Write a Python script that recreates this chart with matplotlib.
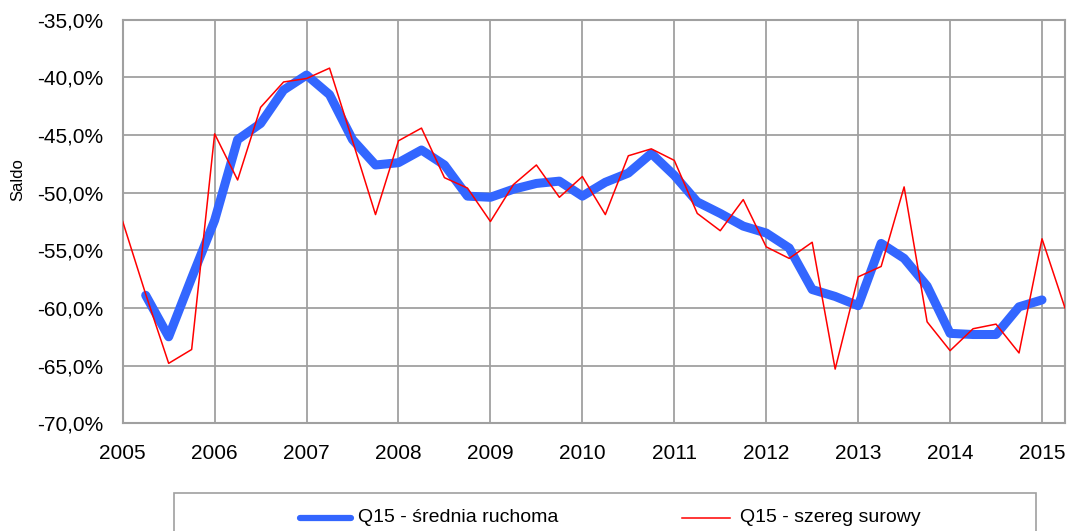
import matplotlib
matplotlib.use("Agg")
import matplotlib.pyplot as plt
from matplotlib.lines import Line2D
from matplotlib.patches import Rectangle
from matplotlib.ticker import FuncFormatter

plt.rcParams['font.family'] = ['Liberation Sans', 'DejaVu Sans']

# Quarterly periods 2005Q1 .. 2015Q2
years = list(range(2005, 2016))
periods = [f"{y}Q{q}" for y in years for q in range(1, 5)][:42]

# Q15 raw series (saldo, %)
raw = [-52.5, -58.8, -64.8, -63.6,
       -44.9, -48.9, -42.6, -40.4,
       -40.1, -39.2, -45.5, -51.9,
       -45.5, -44.4, -48.7, -49.6,
       -52.5, -49.3, -47.6, -50.4,
       -48.6, -51.9, -46.8, -46.2,
       -47.2, -51.8, -53.3, -50.6,
       -54.7, -55.7, -54.3, -65.3,
       -57.3, -56.4, -49.5, -61.2,
       -63.7, -61.8, -61.4, -63.9,
       -54.0, -60.0]

# Q15 moving average (from 2005Q2 to 2015Q1)
ma = [None, -58.9, -62.5, -57.4,
      -52.4, -45.4, -44.0, -41.1,
      -39.8, -41.5, -45.4, -47.6,
      -47.4, -46.3, -47.6, -50.3,
      -50.4, -49.7, -49.2, -49.0,
      -50.3, -49.1, -48.3, -46.6,
      -48.5, -50.8, -51.8, -52.9,
      -53.5, -54.8, -58.4, -59.0,
      -59.8, -54.4, -55.7, -58.1,
      -62.2, -62.3, -62.3, -59.9,
      -59.3, None]

ma_label = "Q15 - średnia ruchoma"
raw_label = "Q15 - szereg surowy"
blue = "#3366FF"
red = "#FF0000"
grid_col = "#A0A0A0"

W, H = 1069, 531
fig = plt.figure(figsize=(W / 100, H / 100), dpi=100)
ax = fig.add_axes([122.7 / W, 1 - 423.3 / H, (1065 - 122.7) / W, (423.3 - 19.7) / H])

idx = list(range(len(periods)))
ma_x = [i for i, v in zip(idx, ma) if v is not None]
ma_y = [v for v in ma if v is not None]

ax.plot(ma_x, ma_y, color=blue, lw=6.5, solid_capstyle='round',
        solid_joinstyle='round', zorder=3)
ax.plot(idx, raw, color=red, lw=1.1, zorder=4)

ax.set_xlim(0, len(periods) - 1)
ax.set_ylim(-70, -35)
ax.set_yticks(range(-70, -34, 5))
ax.yaxis.set_major_formatter(FuncFormatter(lambda v, p: f"{v:.1f}%".replace('.', ',')))
ax.set_xticks([i for i, p in enumerate(periods) if p.endswith("Q1")])
ax.set_xticklabels([p[:4] for p in periods if p.endswith("Q1")])

ax.grid(True, color=grid_col, lw=1.3, zorder=0)
ax.set_axisbelow(True)
for s in ax.spines.values():
    s.set_color(grid_col)
    s.set_linewidth(1.5)
ax.tick_params(axis='both', length=0, labelsize=15, colors='black')
ax.tick_params(axis='y', pad=14)
ax.tick_params(axis='x', pad=15)
ax.set_ylabel("Saldo", fontsize=12)
ax.yaxis.set_label_coords(-(122.7 - 25) / (1065 - 122.7), (423.3 - 180) / (423.3 - 19.7))

# Legend box, running off the bottom edge
fig.add_artist(Rectangle((174 / W, 1 - 545 / H), 862 / W, 52 / H,
                         transform=fig.transFigure, facecolor='white',
                         edgecolor=grid_col, lw=1.2, clip_on=False))
ly = 1 - 518 / H
fig.add_artist(Line2D([300 / W, 351 / W], [ly, ly], color=blue, lw=4.5,
                      solid_capstyle='round', transform=fig.transFigure))
fig.text(358 / W, ly, ma_label, fontsize=14, va='center', ha='left')
fig.add_artist(Line2D([681.7 / W, 730 / W], [ly, ly], color=red, lw=1.1,
                      transform=fig.transFigure))
fig.text(740 / W, ly, raw_label, fontsize=14, va='center', ha='left')

fig.savefig("out.png", dpi=100)
